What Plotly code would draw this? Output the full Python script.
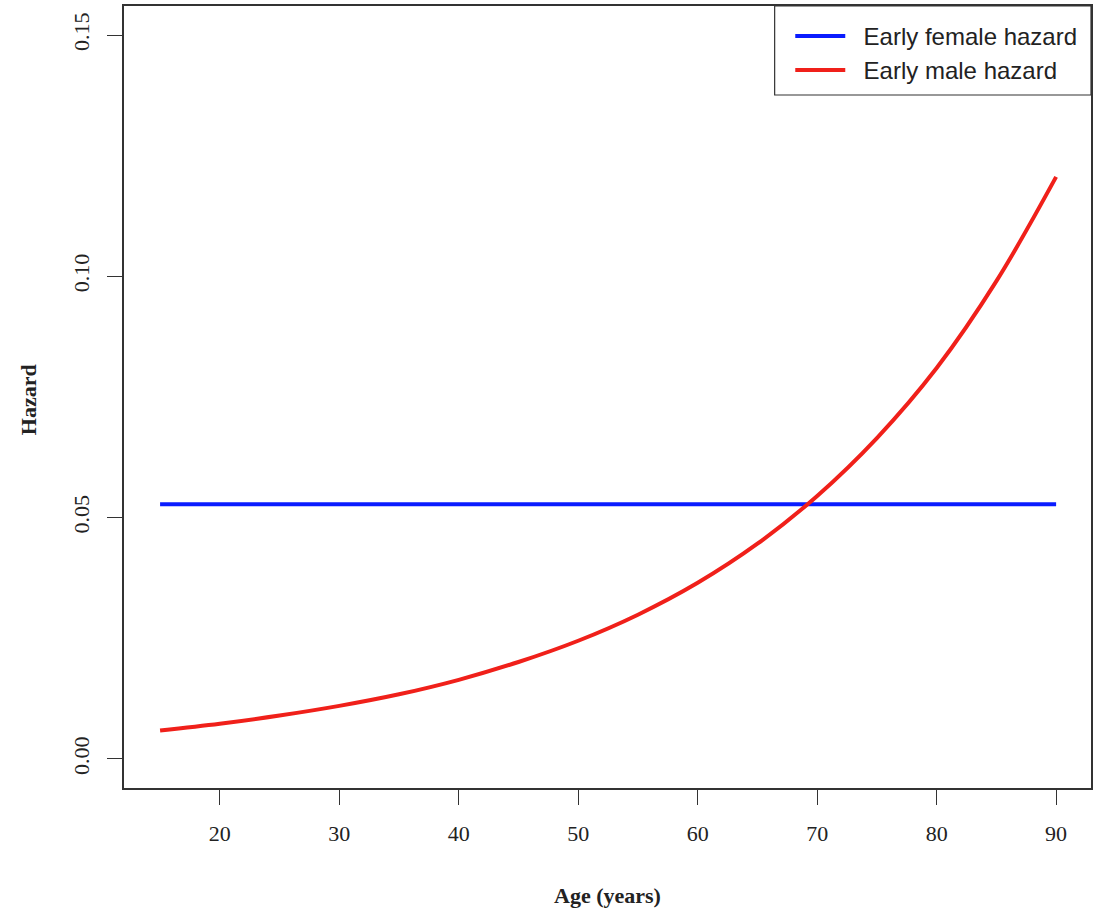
import plotly.graph_objects as go

# Data
age = [15, 20, 25, 30, 35, 40, 45, 50, 55, 60, 65, 70, 75, 80, 85, 90]
male_hazard = [0.0059, 0.0073, 0.0090, 0.0110, 0.0134, 0.0164, 0.0201, 0.0245,
               0.0299, 0.0365, 0.0446, 0.0545, 0.0665, 0.0810, 0.0990, 0.1206]
female_age = [15, 90]
female_hazard = [0.0528, 0.0528]
x_ticks = [20, 30, 40, 50, 60, 70, 80, 90]
y_ticks = [0.00, 0.05, 0.10, 0.15]
y_tick_labels = ["0.00", "0.05", "0.10", "0.15"]
series_names = ["Early female hazard", "Early male hazard"]

serif = "Liberation Serif, Times New Roman, serif"
sans = "Liberation Sans, Arial, sans-serif"
pad = "\u00a0\u00a0"

fig = go.Figure()
fig.add_trace(go.Scatter(x=female_age, y=female_hazard, mode="lines",
                         name=pad + series_names[0],
                         line=dict(color="#0a1cff", width=4)))
fig.add_trace(go.Scatter(x=age, y=male_hazard, mode="lines",
                         name=pad + series_names[1],
                         line=dict(color="#f0201a", width=4, shape="spline")))

fig.update_layout(
    width=1094, height=913,
    margin=dict(l=124, r=1, t=6, b=125),
    paper_bgcolor="white", plot_bgcolor="white",
    showlegend=True,
    legend=dict(x=0.689, y=0.99, xanchor="left", yanchor="top",
                bgcolor="rgba(0,0,0,0)", borderwidth=0,
                font=dict(family=sans, size=24, color="#222"),
                itemwidth=50, tracegroupgap=0),
    xaxis=dict(range=[11.98, 92.92], tickvals=x_ticks, ticks="outside",
               ticklen=15, tickwidth=1.2, tickcolor="#333",
               showline=True, linecolor="#333", linewidth=1.5, mirror=True,
               showgrid=False, zeroline=False, ticklabelstandoff=10,
               tickfont=dict(family=serif, size=22, color="#222")),
    yaxis=dict(range=[-0.00601, 0.15601], tickvals=y_ticks, ticktext=y_tick_labels,
               ticks="outside", ticklen=15, tickwidth=1.2, tickcolor="#333",
               showline=True, linecolor="#333", linewidth=1.5, mirror=True,
               showgrid=False, zeroline=False, tickangle=-90, ticklabelstandoff=9,
               tickfont=dict(family=serif, size=22, color="#222")),
    shapes=[dict(type="rect", xref="paper", yref="paper",
                 x0=(776 - 124) / 969, x1=1.0, y0=1 - (95 - 6) / 782, y1=1.0,
                 line=dict(color="#333", width=1.2), fillcolor="rgba(0,0,0,0)")],
    annotations=[
        dict(text="<b>Age (years)</b>", xref="paper", yref="paper",
             x=(608 - 124) / 969, y=-(895 - 788) / 782, showarrow=False,
             font=dict(family=serif, size=22, color="#222"),
             xanchor="center", yanchor="middle"),
        dict(text="<b>Hazard</b>", xref="paper", yref="paper",
             x=-(124 - 28) / 969, y=1 - (400 - 6) / 782, showarrow=False,
             textangle=-90, font=dict(family=serif, size=22, color="#222"),
             xanchor="center", yanchor="middle"),
    ],
)

fig.write_html("out.html", config={"displayModeBar": False},
               post_script="document.body.style.margin='0';")
